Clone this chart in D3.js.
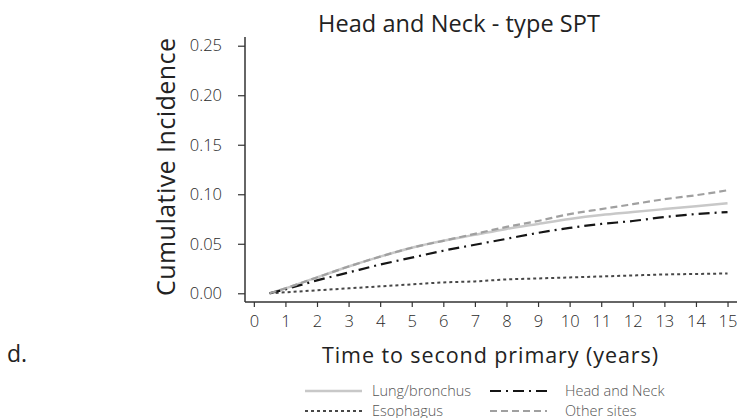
<!DOCTYPE html>
<html>
<head>
<meta charset="utf-8">
<script src="https://cdn.jsdelivr.net/npm/d3@7"></script>
<style>
  body { margin: 0; background: #fff; }
  text { font-family: "Open Sans", Lato, sans-serif; }
</style>
</head>
<body>
<div id="chart"></div>
<script>
// Data
var years = [0.5, 1, 2, 3, 4, 5, 6, 7, 8, 9, 10, 11, 12, 13, 14, 15];
var lungBronchus = [0, 0.005, 0.016, 0.027, 0.037, 0.046, 0.053, 0.059, 0.065, 0.070, 0.075, 0.079, 0.082, 0.085, 0.088, 0.091];
var esophagus = [0, 0.001, 0.003, 0.005, 0.007, 0.009, 0.011, 0.012, 0.014, 0.015, 0.016, 0.017, 0.018, 0.019, 0.0195, 0.020];
var headNeck = [0, 0.004, 0.013, 0.021, 0.029, 0.036, 0.043, 0.049, 0.055, 0.061, 0.066, 0.070, 0.073, 0.077, 0.080, 0.082];
var otherSites = [0, 0.005, 0.016, 0.027, 0.037, 0.046, 0.053, 0.060, 0.067, 0.073, 0.080, 0.085, 0.090, 0.095, 0.099, 0.104];
var xTicks = d3.range(0, 16);
var yTicks = [0, 0.05, 0.10, 0.15, 0.20, 0.25];

var width = 738, height = 418;
var margin = {top: 37, right: 1, bottom: 116, left: 245};

var series = [
    {name: 'Lung/bronchus', values: lungBronchus, color: '#c8c8c8', dash: null, w: 2.5},
    {name: 'Esophagus', values: esophagus, color: '#474747', dash: '3,3', w: 2},
    {name: 'Head and Neck', values: headNeck, color: '#151515', dash: '11,5,2,5', w: 2.2},
    {name: 'Other sites', values: otherSites, color: '#a0a0a0', dash: '7,4', w: 2.2}
];

var svg = d3.select('#chart').append('svg')
    .attr('width', width)
    .attr('height', height);

var x = d3.scaleLinear().domain([-0.28, 15.3]).range([margin.left, width - margin.right]);
var y = d3.scaleLinear().domain([-0.0088, 0.2588]).range([height - margin.bottom, margin.top]);

// axes
var xAxis = svg.append('g')
    .attr('transform', 'translate(0,' + (height - margin.bottom) + ')')
    .call(d3.axisBottom(x).tickValues(xTicks).tickSize(5).tickPadding(8).tickFormat(d3.format('d')));
var yAxis = svg.append('g')
    .attr('transform', 'translate(' + margin.left + ',0)')
    .call(d3.axisLeft(y).tickValues(yTicks).tickSize(7).tickPadding(16).tickFormat(d3.format('.2f')));

[xAxis, yAxis].forEach(function (a) {
    a.select('.domain').attr('stroke', '#333').attr('stroke-width', 1.5);
    a.selectAll('.tick line').attr('stroke', '#333').attr('stroke-width', 1.2);
    a.selectAll('.tick text').attr('fill', '#2a2a2a').style('font-size', '16.5px')
        .style('font-weight', 300)
        .style('font-family', '"Open Sans", Lato, sans-serif');
});
// remove the outer ticks so the axes meet like ggplot
xAxis.select('.domain').attr('d', 'M' + margin.left + ',0H' + (width - margin.right));
yAxis.select('.domain').attr('d', 'M0,' + margin.top + 'V' + (height - margin.bottom));

// lines
var line = d3.line()
    .x(function (d, i) { return x(years[i]); })
    .y(function (d) { return y(d); })
    .curve(d3.curveMonotoneX);

series.forEach(function (s) {
    svg.append('path')
        .datum(s.values)
        .attr('fill', 'none')
        .attr('stroke', s.color)
        .attr('stroke-width', s.w)
        .attr('stroke-dasharray', s.dash)
        .attr('d', line);
});

// titles (reference font is wider than Open Sans, so stretch spacing a little)
svg.append('text')
    .attr('x', 459).attr('y', 32)
    .attr('text-anchor', 'middle')
    .attr('textLength', 282).attr('lengthAdjust', 'spacing')
    .style('font-size', '23.5px').attr('fill', '#222')
    .text('Head and Neck - type SPT');

svg.append('text')
    .attr('transform', 'translate(175,167) rotate(-90)')
    .attr('text-anchor', 'middle')
    .attr('textLength', 258).attr('lengthAdjust', 'spacing')
    .style('font-size', '25px').attr('fill', '#222')
    .text('Cumulative Incidence');

svg.append('text')
    .attr('x', 490).attr('y', 363)
    .attr('text-anchor', 'middle')
    .attr('textLength', 336).attr('lengthAdjust', 'spacing')
    .style('font-size', '21.5px').style('font-weight', 500).attr('fill', '#222')
    .text('Time to second primary (years)');

svg.append('text')
    .attr('x', 7).attr('y', 362)
    .style('font-size', '23px').attr('fill', '#222')
    .text('d.');

// legend
var legendPos = [[305, 391], [305, 411], [490, 391], [490, 411]];
series.forEach(function (s, i) {
    var p = legendPos[i];
    var g = svg.append('g').attr('transform', 'translate(' + p[0] + ',' + p[1] + ')');
    g.append('line')
        .attr('x1', 0).attr('x2', 57).attr('y1', 0).attr('y2', 0)
        .attr('stroke', s.color).attr('stroke-width', s.w)
        .attr('stroke-dasharray', s.dash);
    g.append('text')
        .attr('x', i < 2 ? 67 : 75).attr('y', 4.5)
        .style('font-size', '14.5px').style('font-weight', 300).attr('fill', '#555')
        .text(s.name);
});
</script>
</body>
</html>
